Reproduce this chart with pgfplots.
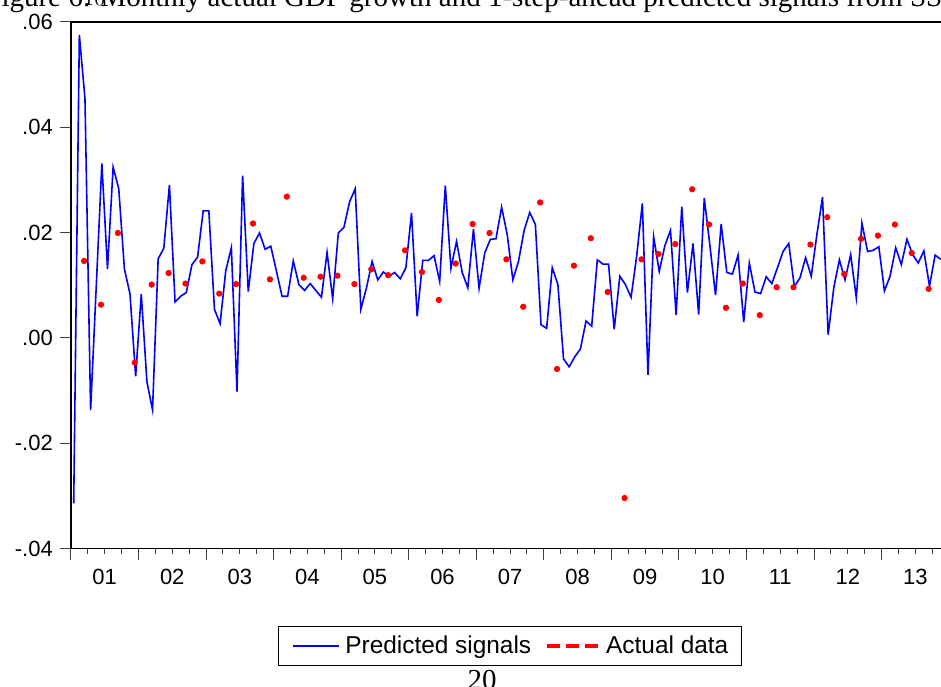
\documentclass[border=0pt]{standalone}
\usepackage{fontspec}
\setmainfont{Liberation Sans}
\newfontfamily\docserif{Liberation Serif}
\usepackage{pgfplots}
\pgfplotsset{compat=1.18}
\usepackage{pgfplotstable}

% Monthly one-step-ahead predicted signal (index 0 = 2001M01)
\pgfplotstableread{
n sig
0 -0.0314
1 0.0575
2 0.0454
3 -0.0137
4 0.0097
5 0.0331
6 0.0131
7 0.0324
8 0.0283
9 0.0131
10 0.0083
11 -0.0073
12 0.0083
13 -0.0083
14 -0.0137
15 0.0150
16 0.0170
17 0.0290
18 0.0068
19 0.0079
20 0.0086
21 0.0139
22 0.0153
23 0.0241
24 0.0241
25 0.0054
26 0.0027
27 0.0127
28 0.0171
29 -0.0102
30 0.0308
31 0.0088
32 0.0179
33 0.0199
34 0.0168
35 0.0174
36 0.0127
37 0.0079
38 0.0079
39 0.0146
40 0.0101
41 0.0090
42 0.0103
43 0.0090
44 0.0077
45 0.0162
46 0.0074
47 0.0199
48 0.0210
49 0.0258
50 0.0283
51 0.0054
52 0.0095
53 0.0145
54 0.0110
55 0.0125
56 0.0117
57 0.0124
58 0.0112
59 0.0133
60 0.0237
61 0.0041
62 0.0147
63 0.0147
64 0.0156
65 0.0107
66 0.0289
67 0.0132
68 0.0183
69 0.0124
70 0.0095
71 0.0206
72 0.0094
73 0.0161
74 0.0187
75 0.0188
76 0.0248
77 0.0196
78 0.0110
79 0.0145
80 0.0204
81 0.0238
82 0.0215
83 0.0025
84 0.0018
85 0.0133
86 0.0101
87 -0.0040
88 -0.0055
89 -0.0036
90 -0.0021
91 0.0032
92 0.0022
93 0.0148
94 0.0140
95 0.0140
96 0.0016
97 0.0117
98 0.0101
99 0.0077
100 0.0156
101 0.0255
102 -0.0070
103 0.0192
104 0.0126
105 0.0175
106 0.0204
107 0.0043
108 0.0249
109 0.0086
110 0.0179
111 0.0044
112 0.0265
113 0.0175
114 0.0081
115 0.0216
116 0.0124
117 0.0121
118 0.0157
119 0.0030
120 0.0142
121 0.0087
122 0.0084
123 0.0116
124 0.0103
125 0.0133
126 0.0164
127 0.0179
128 0.0097
129 0.0114
130 0.0152
131 0.0117
132 0.0196
133 0.0267
134 0.0006
135 0.0095
136 0.0148
137 0.0110
138 0.0158
139 0.0076
140 0.0218
141 0.0164
142 0.0166
143 0.0173
144 0.0089
145 0.0117
146 0.0171
147 0.0139
148 0.0187
149 0.0158
150 0.0142
151 0.0165
152 0.0098
153 0.0157
154 0.0149
}\predicted

% Quarterly actual GDP growth, plotted at the quarter's last month
\pgfplotstableread{
t gdp
1.85 0.0146
4.85 0.0063
7.85 0.0199
10.85 -0.0047
13.85 0.0101
16.85 0.0123
19.85 0.0103
22.85 0.0145
25.85 0.0084
28.85 0.0102
31.85 0.0217
34.85 0.0111
37.85 0.0268
40.85 0.0114
43.85 0.0116
46.85 0.0118
49.85 0.0102
52.85 0.0130
55.85 0.0119
58.85 0.0166
61.85 0.0125
64.85 0.0072
67.85 0.0141
70.85 0.0216
73.85 0.0199
76.85 0.0149
79.85 0.0059
82.85 0.0257
85.85 -0.0059
88.85 0.0137
91.85 0.0189
94.85 0.0087
97.85 -0.0304
100.85 0.0149
103.85 0.0159
106.85 0.0178
109.85 0.0282
112.85 0.0215
115.85 0.0057
118.85 0.0103
121.85 0.0043
124.85 0.0096
127.85 0.0096
130.85 0.0177
133.85 0.0229
136.85 0.0121
139.85 0.0188
142.85 0.0194
145.85 0.0215
148.85 0.0161
151.85 0.0093
}\actual

\begin{document}
\begin{tikzpicture}
\begin{axis}[
  at={(0pt,0pt)}, anchor=north west,
  scale only axis, width=439.14pt, height=263.45pt,
  xmin=-0.5, xmax=155.5, ymin=-0.04, ymax=0.06,
  separate axis lines,
  axis line style={black, line width=0.9pt},
  tick align=outside,
  xtick pos=left, ytick pos=left,
  major tick length=5.5pt, minor tick length=2.5pt,
  tick style={black!75, line width=0.5pt},
  xtick={-0.5,11.5,...,155.5},
  xticklabels={01,02,03,04,05,06,07,08,09,10,11,12,13,{}},
  minor x tick num=3,
  xticklabel style={xshift=16.89pt, yshift=-1.3pt},
  ytick={-0.04,-0.02,0,0.02,0.04,0.06},
  yticklabels={-.04,-.02,.00,.02,.04,.06},
  ticklabel style={font=\fontsize{11}{13}\selectfont},
  legend columns=2,
  legend style={at={(0.5,-0.1469)}, anchor=north, draw=black, line width=0.5pt,
    font=\fontsize{12.2}{14}\selectfont, inner xsep=6.5pt, inner ysep=2.6pt,
    nodes={inner xsep=0pt, inner ysep=2pt},
    /tikz/every odd column/.append style={column sep=3pt},
    /tikz/every even column/.append style={column sep=7pt}},
]
\addplot[blue, line width=0.8pt, mark=none,
  legend image code/.code={\draw[blue, line width=0.8pt] (0pt,0pt) -- (23pt,0pt);}]
  table[x=n, y=sig] {\predicted};
\addlegendentry{Predicted signals}
\addplot[only marks, mark=*, mark size=1.35pt, red, mark options={draw=red, fill=red},
  legend image code/.code={\draw[red, line width=2pt, dash pattern=on 6.5pt off 3pt] (0pt,0pt) -- (25.5pt,0pt);}]
  table[x=t, y=gdp] {\actual};
\addlegendentry{Actual data}
\end{axis}
\node[anchor=base west, inner sep=0pt, font=\docserif\fontsize{14.5}{17}\selectfont]
  at (-42.95pt, 7.5pt) {Figure 6: Monthly actual GDP growth and 1-step-ahead predicted signals from SS};
\node[anchor=base, inner sep=0pt, font=\docserif\fontsize{14.5}{17}\selectfont]
  at (205.55pt, -333.95pt) {20};
\pgfresetboundingbox
\useasboundingbox (-35.45pt,10.85pt) rectangle (435.05pt,-332.15pt);
\end{tikzpicture}
\end{document}
